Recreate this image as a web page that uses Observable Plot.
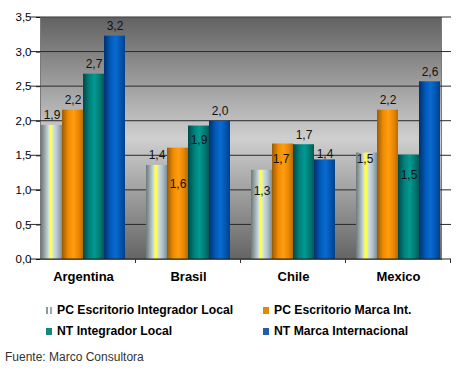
<!DOCTYPE html>
<html><head><meta charset="utf-8">
<script src="https://cdn.jsdelivr.net/npm/d3@7"></script>
<script src="https://cdn.jsdelivr.net/npm/@observablehq/plot@0.6"></script>
<style>
body{margin:0;background:#fff;font-family:"Liberation Sans",Arial,sans-serif;}
#wrap{position:relative;width:468px;height:373px;}
#legend{position:absolute;left:0;top:302px;width:468px;font-weight:bold;font-size:12.2px;color:#000;}
.item{position:absolute;height:16px;line-height:16px;white-space:nowrap;}
.sw{display:inline-block;width:6px;height:7px;margin-right:5px;vertical-align:0px;}
#source{position:absolute;left:5px;top:350px;font-size:12px;color:#333;}
</style></head>
<body><div id="wrap"><div id="chart"></div><div id="legend"></div><div id="source">Fuente: Marco Consultora</div></div>
<script>
// ---- data ----
const countries = ["Argentina", "Brasil", "Chile", "Mexico"];
const seriesNames = ["PC Escritorio Integrador Local", "PC Escritorio Marca Int.", "NT Integrador Local", "NT Marca Internacional"];
const pcIntegradorLocal = [1.94, 1.36, 1.29, 1.54];
const pcMarcaInt        = [2.16, 1.61, 1.67, 2.16];
const ntIntegradorLocal = [2.68, 1.93, 1.66, 1.51];
const ntMarcaInt        = [3.23, 2.00, 1.44, 2.57];
const yTicks = [0, 0.5, 1, 1.5, 2, 2.5, 3, 3.5];

// ---- styles ----
const gradients = [
  [[0,"#6d787a"],[0.18,"#9aaaac"],[0.38,"#d2e2e2"],[0.42,"#ffff40"],[0.52,"#ffff40"],[0.56,"#d6e6e6"],[0.78,"#b2c2c6"],[1,"#7f8f96"]],
  [[0,"#9a5a08"],[0.3,"#f08c00"],[0.55,"#ff9c10"],[0.8,"#e88600"],[1,"#b86a00"]],
  [[0,"#004848"],[0.3,"#00807a"],[0.55,"#009a92"],[0.8,"#007a74"],[1,"#005a56"]],
  [[0,"#002f6e"],[0.3,"#005ab8"],[0.55,"#0a6ad0"],[0.8,"#0056b0"],[1,"#003f88"]]
];
const legendSwatch = ["linear-gradient(90deg,#8a9a9c 0 40%,#fff 40% 60%,#9aaaac 60%)","#e08a00","#16877e","#1f5fa8"];
// label offsets (px) for labels Excel placed inside / shifted
const labelDy = {"Brasil|1":36, "Brasil|2":14, "Chile|0":21, "Chile|1":15, "Chile|3":-6, "Mexico|0":6, "Mexico|2":20};
const labelDx = {"Chile|1":-2, "Mexico|0":-2};

const seriesValues = [pcIntegradorLocal, pcMarcaInt, ntIntegradorLocal, ntMarcaInt];
const data = [];
countries.forEach((c, i) => seriesValues.forEach((arr, j) => data.push({country: c, series: seriesNames[j], s: j, value: arr[i]})));
const fmt = v => d3.format(".1f")(v).replace(".", ",");

const labelMarks = data.map(d => Plot.text([d], {
  fx: "country", x: "series", y: "value", text: d => fmt(d.value),
  dy: labelDy[d.country + "|" + d.s] ?? -10, dx: labelDx[d.country + "|" + d.s] ?? 0,
  fontSize: 12, fill: "#111"
}));

const plot = Plot.plot({
  width: 468, height: 292,
  marginLeft: 30, marginRight: 17, marginTop: 17, marginBottom: 33,
  style: {fontFamily: '"Liberation Sans", Arial, sans-serif', fontSize: "11.5px", color: "#000", background: "transparent", overflow: "visible"},
  fx: {domain: countries, paddingInner: 0.18, paddingOuter: 0.09, label: null, tickSize: 0, tickPadding: 12},
  x: {domain: seriesNames, axis: null, padding: 0},
  y: {domain: [0, 3.5], ticks: yTicks, tickFormat: fmt, label: null, tickSize: 4},
  marks: [
    Plot.frame({fill: "url(#bgGrad)", stroke: "#7a7a7a", facet: "super"}),
    ...seriesNames.map((name, j) => Plot.barY(data.filter(d => d.s === j), {fx: "country", x: "series", y: "value", fill: `url(#g${j})`})),
    ...labelMarks
  ]
});

const svg = d3.select(plot);
const defs = svg.insert("defs", ":first-child");
const bg = defs.append("linearGradient").attr("id", "bgGrad").attr("x1", 0).attr("x2", 0).attr("y1", 0).attr("y2", 1);
[[0,"#626262"],[0.5,"#cfcfcf"],[1,"#646464"]].forEach(([o,c]) => bg.append("stop").attr("offset", o).attr("stop-color", c));
gradients.forEach((stops, j) => {
  const g = defs.append("linearGradient").attr("id", "g" + j).attr("x1", 0).attr("x2", 1).attr("y1", 0).attr("y2", 0);
  stops.forEach(([o,c]) => g.append("stop").attr("offset", o).attr("stop-color", c));
});
svg.selectAll("[aria-label='fx-axis tick label'] text, [aria-label='fx-axis tick label']").style("font-weight", "bold").style("font-size", "13px");

// gridlines, baseline and category tick marks from the plot's own scales
const yS = plot.scale("y");
const xL = 30, xR = 468 - 17;
const frameNode = svg.select("[aria-label='frame']").node();
const grid = svg.insert("g", () => frameNode ? frameNode.nextSibling : null);
grid.selectAll("line").data(yTicks.slice(1)).join("line")
  .attr("x1", xL).attr("x2", xR).attr("y1", d => yS.apply(d)).attr("y2", d => yS.apply(d))
  .attr("stroke", "#2a2a2a");
const y0 = yS.apply(0);
const base = svg.append("g");
base.append("line").attr("x1", xL).attr("x2", xR).attr("y1", y0).attr("y2", y0).attr("stroke", "#222");
try {
  const fx = plot.scale("fx");
  const half = (fx.step - fx.bandwidth) / 2;
  const xs = [fx.apply(countries[0]) - half, ...countries.map(c => fx.apply(c) + fx.bandwidth + half)];
  base.selectAll("line.t").data(xs).join("line").attr("class", "t")
    .attr("x1", d => d).attr("x2", d => d).attr("y1", y0).attr("y2", y0 + 4).attr("stroke", "#333");
} catch (e) {}

document.getElementById("chart").appendChild(plot);

const legend = document.getElementById("legend");
const pos = [[46, 0], [263, 0], [46, 21], [263, 21]];
seriesNames.forEach((name, j) => {
  const it = document.createElement("div");
  it.className = "item";
  it.style.left = pos[j][0] + "px"; it.style.top = pos[j][1] + "px";
  it.innerHTML = `<span class="sw" style="background:${legendSwatch[j]}"></span>${name}`;
  legend.appendChild(it);
});
</script></body></html>
